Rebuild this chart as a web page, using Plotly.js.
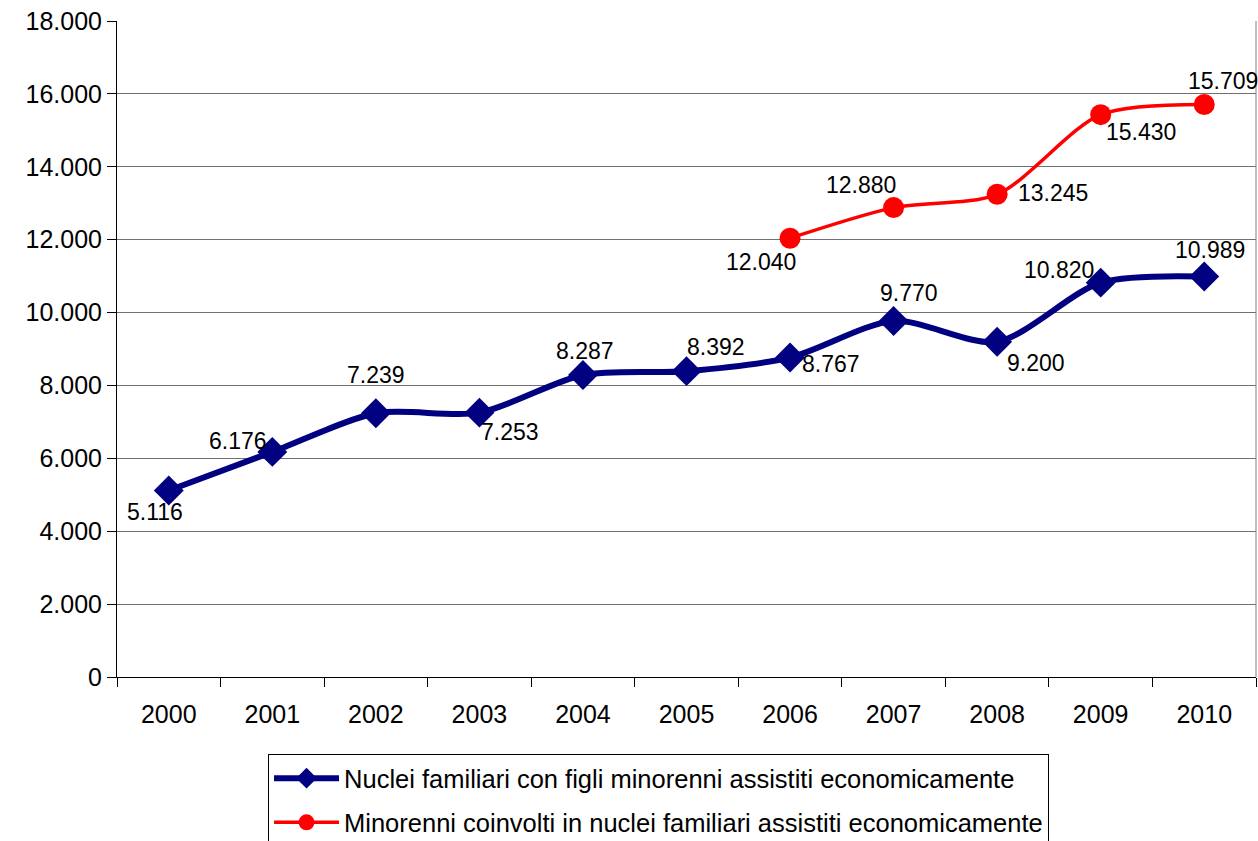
<!DOCTYPE html>
<html>
<head>
<meta charset="utf-8">
<script src="https://cdn.plot.ly/plotly-3.0.1.min.js"></script>
<style>html,body{margin:0;padding:0;background:#fff;}#chart{width:1258px;height:841px;}</style>
</head>
<body>
<div id="chart"></div>
<script>
const years = ['2000','2001','2002','2003','2004','2005','2006','2007','2008','2009','2010'];
const nuclei = [5116, 6176, 7239, 7253, 8287, 8392, 8767, 9770, 9200, 10820, 10989];
const minoriYears = ['2006','2007','2008','2009','2010'];
const minorenni = [12040, 12880, 13245, 15430, 15709];
const yTicks = [0,2000,4000,6000,8000,10000,12000,14000,16000,18000];

// label offsets in pixels (style only): [dx, dy(down positive)]
const nucleiLabelOffset = [[-14,21],[-34,-11],[0,-38],[31,19],[2,-24],[29,-24],[41,7],[15,-28],[39,21],[-42,-13],[6,-27]];
const minoriLabelOffset = [[-29,24],[-33,-23],[56,-1],[40,17],[19,-23]];

function fmt(v) {
  const s = String(Math.round(v));
  return s.length > 3 ? s.slice(0, s.length - 3) + '.' + s.slice(-3) : s;
}

const fam = 'Liberation Sans, Arial, sans-serif';
const font = {family: fam, size: 25, color: '#000'};
const legendFont = {family: fam, size: 25.5, color: '#000'};
const labelFont = {family: fam, size: 23, color: '#000'};

const traces = [
  {
    x: years, y: nuclei, type: 'scatter', mode: 'lines+markers',
    name: 'Nuclei familiari con figli minorenni assistiti economicamente',
    legendgroup: 'a',
    line: {color: '#000080', width: 6, shape: 'spline', smoothing: 0.8},
    marker: {symbol: 'diamond', size: 23, color: '#000080'},
    cliponaxis: false
  },
  {
    x: minoriYears, y: minorenni, type: 'scatter', mode: 'lines+markers',
    name: 'Minorenni coinvolti in nuclei familiari assistiti economicamente',
    legendgroup: 'b',
    line: {color: '#FF0000', width: 3.5, shape: 'spline', smoothing: 0.8},
    marker: {symbol: 'circle', size: 21, color: '#FF0000'},
    cliponaxis: false
  }
];

const annotations = [];
for (let i = 0; i < years.length; i++) {
  annotations.push({x: i, y: nuclei[i], xref: 'x', yref: 'y', text: fmt(nuclei[i]),
    showarrow: false, xanchor: 'center', yanchor: 'middle',
    xshift: nucleiLabelOffset[i][0], yshift: -nucleiLabelOffset[i][1],
    font: {family: labelFont.family, size: labelFont.size, color: labelFont.color}});
}
for (let i = 0; i < minoriYears.length; i++) {
  annotations.push({x: years.indexOf(minoriYears[i]), y: minorenni[i], xref: 'x', yref: 'y', text: fmt(minorenni[i]),
    showarrow: false, xanchor: 'center', yanchor: 'middle',
    xshift: minoriLabelOffset[i][0], yshift: -minoriLabelOffset[i][1],
    font: {family: labelFont.family, size: labelFont.size, color: labelFont.color}});
}

const layout = {
  width: 1258, height: 841,
  margin: {l: 117, r: 2, t: 21, b: 164, autoexpand: false},
  paper_bgcolor: '#fff', plot_bgcolor: '#fff',
  separators: ',.',
  font: font,
  showlegend: true,
  legend: {
    x: 0.1326, y: -0.1175, xanchor: 'left', yanchor: 'top',
    orientation: 'v', bordercolor: '#000', borderwidth: 1,
    font: legendFont, tracegroupgap: 8, bgcolor: '#fff', itemwidth: 65
  },
  xaxis: {
    type: 'category', range: [-0.5, 10.5],
    categoryorder: 'array', categoryarray: years,
    tickmode: 'array', tickvals: years, ticktext: years,
    ticks: 'outside', ticklen: 9, tickcolor: '#000',
    tickson: 'boundaries',
    showline: true, linecolor: '#000', linewidth: 1,
    showgrid: false, zeroline: false,
    tickfont: font, ticklabelstandoff: 15
  },
  yaxis: {
    range: [0, 18000], tickmode: 'array', tickvals: yTicks,
    tickformat: ',.0f',
    ticks: 'outside', ticklen: 9, tickcolor: '#000',
    showline: true, linecolor: '#000', linewidth: 1,
    showgrid: true, gridcolor: '#707070', gridwidth: 1,
    zeroline: false, tickfont: font
  },
  annotations: annotations,
  shapes: [
    {type: 'line', xref: 'paper', yref: 'paper', x0: 1, x1: 1, y0: 0, y1: 1, line: {color: '#808080', width: 1}}
  ]
};

Plotly.newPlot('chart', traces, layout, {displayModeBar: false, staticPlot: true});
</script>
</body>
</html>
